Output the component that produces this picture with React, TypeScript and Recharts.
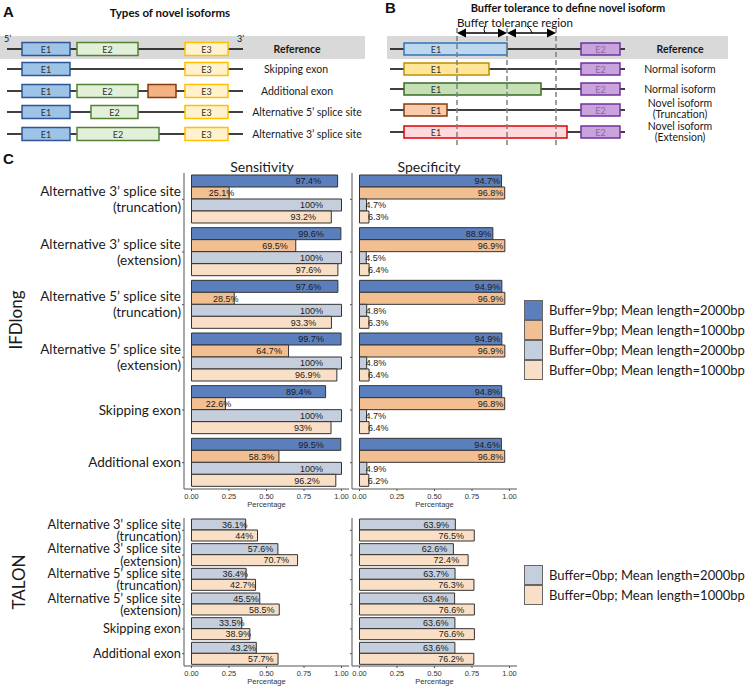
import React from 'react';
import { BarChart, Bar, XAxis, YAxis, LabelList } from 'recharts';

// ---------- data ----------
const categories = [
  'Alternative 3\u2019 splice site\n(truncation)',
  'Alternative 3\u2019 splice site\n(extension)',
  'Alternative 5\u2019 splice site\n(truncation)',
  'Alternative 5\u2019 splice site\n(extension)',
  'Skipping exon',
  'Additional exon',
];

const seriesNames = [
  'Buffer=9bp; Mean length=2000bp',
  'Buffer=9bp; Mean length=1000bp',
  'Buffer=0bp; Mean length=2000bp',
  'Buffer=0bp; Mean length=1000bp',
];
const seriesColors = ['#5b7fbd', '#f2bf93', '#c5cedc', '#f9dfc6'];

const ifdSens9bp2000 = [97.4, 99.6, 97.6, 99.7, 89.4, 99.5];
const ifdSens9bp1000 = [25.1, 69.5, 28.5, 64.7, 22.6, 58.3];
const ifdSens0bp2000 = [100, 100, 100, 100, 100, 100];
const ifdSens0bp1000 = [93.2, 97.6, 93.3, 96.9, 93, 96.2];

const ifdSpec9bp2000 = [94.7, 88.9, 94.9, 94.9, 94.8, 94.6];
const ifdSpec9bp1000 = [96.8, 96.9, 96.9, 96.9, 96.8, 96.8];
const ifdSpec0bp2000 = [4.7, 4.5, 4.8, 4.8, 4.7, 4.9];
const ifdSpec0bp1000 = [6.3, 6.4, 6.3, 6.4, 6.4, 6.2];

const talonSens0bp2000 = [36.1, 57.6, 36.4, 45.5, 33.5, 43.2];
const talonSens0bp1000 = [44, 70.7, 42.7, 58.5, 38.9, 57.7];

const talonSpec0bp2000 = [63.9, 62.6, 63.7, 63.4, 63.6, 63.6];
const talonSpec0bp1000 = [76.5, 72.4, 76.3, 76.6, 76.6, 76.2];

const xTicks = [0, 25, 50, 75, 100];

// schematic panel A
const isoformTypes = ['Reference', 'Skipping exon', 'Additional exon', 'Alternative 5\u2019 splice site', 'Alternative 3\u2019 splice site'];
const isoformExons: [string, number, number, string][][] = [
  [['E1', 22, 70, 'e1'], ['E2', 77, 138, 'e2'], ['E3', 185, 228, 'e3']],
  [['E1', 22, 70, 'e1'], ['E3', 185, 228, 'e3']],
  [['E1', 22, 70, 'e1'], ['E2', 77, 138, 'e2'], ['', 148, 176, 'ex'], ['E3', 185, 228, 'e3']],
  [['E1', 22, 70, 'e1'], ['E2', 91, 138, 'e2'], ['E3', 185, 228, 'e3']],
  [['E1', 22, 70, 'e1'], ['E2', 77, 159, 'e2'], ['E3', 185, 228, 'e3']],
];
// schematic panel B
const bufferRows = ['Reference', 'Normal isoform', 'Normal isoform', 'Novel isoform\n(Truncation)', 'Novel isoform\n(Extension)'];
const bufferE1End = [507, 489, 541, 447, 567];
const bufferE1Style = ['ref', 'n1', 'n2', 'tr', 'ext'];

// ---------- styles ----------
const FONT = "Lato, 'Open Sans', sans-serif";
const NUMFONT = "'Liberation Sans Narrow', 'Liberation Sans', Arial, sans-serif";
const exonStyle: Record<string, { fill: string; stroke: string }> = {
  e1: { fill: '#9dc3e6', stroke: '#2f5597' },
  e2: { fill: '#e2f0d9', stroke: '#548235' },
  e3: { fill: '#fff2cc', stroke: '#ffc000' },
  ex: { fill: '#f4b183', stroke: '#843c0c' },
  ref: { fill: '#bdd7ee', stroke: '#2e75b6' },
  n1: { fill: '#ffe699', stroke: '#bf9000' },
  n2: { fill: '#c5e0b4', stroke: '#3a6b22' },
  tr: { fill: '#f8cbad', stroke: '#843c0c' },
  ext: { fill: '#ffd9dc', stroke: '#e00000' },
  p2: { fill: '#c9a3dc', stroke: '#7030a0' },
};

function makeRows(arrs: number[][]) {
  return categories.map((cat, i) => {
    const r: any = { cat };
    arrs.forEach((a, j) => { r['s' + j] = a[i]; });
    return r;
  });
}

function CatTick(props: any) {
  const { x, y, payload, lineGap, fs } = props;
  const lines = String(payload.value).split('\n');
  const n = lines.length;
  return (
    <text x={x} y={y} textAnchor="end" fontFamily={FONT} fontSize={fs} fill="#1a1a1a">
      {lines.map((l, i) => (
        <tspan key={i} x={x} y={y + (i - (n - 1) / 2) * lineGap} dy="0.35em">{l}</tspan>
      ))}
    </text>
  );
}

const makeLabel = (mode: string) => (p: any) => {
  const { x, y, width, height, value } = p;
  let tx: number;
  let anchor: string;
  if (mode === 'end') {
    if (value > 50) { tx = x + width - 1.5; anchor = 'end'; } else { tx = x + width - 1; anchor = 'start'; }
  } else { tx = x + width * 0.8; anchor = 'middle'; }
  return (
    <text x={tx} y={y + height / 2} dy="0.36em" textAnchor={anchor as any} fontSize={9} fontFamily={NUMFONT} fill="#1a1a1a">
      {`${value}%`}
    </text>
  );
};

function ChartPanel(props: any) {
  const { left, top, width, height, margin, yWidth, data, seriesIdx, showCats, lineGap, labelMode, gap, fs } = props;
  return (
    <div style={{ position: 'absolute', left, top }}>
      <BarChart width={width} height={height} data={data} layout="vertical" margin={margin} barGap={0} barCategoryGap={gap}>
        <XAxis
          type="number"
          domain={[-5, 105]}
          ticks={xTicks}
          allowDataOverflow
          height={14}
          tickFormatter={(v: number) => (v / 100).toFixed(2)}
          tick={{ fontSize: 7.5, fill: '#333', fontFamily: NUMFONT }}
          tickSize={2}
          tickMargin={3}
          axisLine={{ stroke: '#555' }}
          tickLine={{ stroke: '#555' }}
          label={{ value: 'Percentage', position: 'bottom', offset: -1, fontSize: 7.5, fill: '#333', fontFamily: NUMFONT }}
        />
        <YAxis
          type="category"
          dataKey="cat"
          width={yWidth}
          interval={0}
          tickSize={2}
          tickMargin={1}
          axisLine={{ stroke: '#555' }}
          tickLine={{ stroke: '#555' }}
          tick={showCats ? (tp: any) => <CatTick {...tp} lineGap={lineGap} fs={fs} /> : () => <g />}
        />
        {seriesIdx.map((si: number, j: number) => (
          <Bar key={si} dataKey={'s' + j} name={seriesNames[si]} fill={seriesColors[si]} stroke="#333" strokeWidth={1} isAnimationActive={false}>
            <LabelList dataKey={'s' + j} content={makeLabel(labelMode) as any} />
          </Bar>
        ))}
      </BarChart>
    </div>
  );
}

function LegendBox({ left, top, idx }: { left: number; top: number; idx: number[] }) {
  return (
    <div style={{ position: 'absolute', left, top, fontFamily: FONT, fontSize: 13, color: '#1a1a1a', whiteSpace: 'nowrap' }}>
      {idx.map((i) => (
        <div key={i} style={{ display: 'flex', alignItems: 'center', height: 20 }}>
          <div style={{ width: 17, height: 18, background: seriesColors[i], border: '1px solid #666', marginRight: 6 }} />
          <span>{seriesNames[i]}</span>
        </div>
      ))}
    </div>
  );
}

function Schematics() {
  const rowYA = [49, 69, 91, 112, 134];
  const rowYB = [49, 69, 89, 110, 132];
  const labelXA = [297, 296, 297, 307, 307];
  const labelYB = [[49], [69], [89], [103, 114], [126, 137]];
  return (
    <svg width={750} height={686} style={{ position: 'absolute', left: 0, top: 0 }}>
      {/* Panel A */}
      <text x={3} y={11} dominantBaseline="central" fontFamily="'Liberation Sans', Arial" fontWeight="bold" fontSize={15} fill="#111">A</text>
      <text x={170} y={12} textAnchor="middle" dominantBaseline="central" fontFamily={FONT} fontWeight="bold" fontSize={11.5} fill="#111">Types of novel isoforms</text>
      <rect x={0} y={36} width={365} height={23} fill="#d9d9d9" />
      <text x={4} y={42} fontFamily={FONT} fontSize={9} fill="#111">5{'\u2019'}</text>
      <text x={237} y={42} fontFamily={FONT} fontSize={9} fill="#111">3{'\u2019'}</text>
      {rowYA.map((y, r) => (
        <g key={r}>
          <line x1={7} x2={243} y1={y} y2={y} stroke="#000" strokeWidth={1.5} />
          {isoformExons[r].map(([lab, s, e, st], k) => (
            <g key={k}>
              <rect x={s} y={y - 6.5} width={e - s} height={13} fill={exonStyle[st].fill} stroke={exonStyle[st].stroke} strokeWidth={1.5} />
              {lab && <text x={(s + e) / 2} y={y + 0.5} textAnchor="middle" dominantBaseline="central" fontFamily={FONT} fontSize={9} fill="#333">{lab}</text>}
            </g>
          ))}
          <text x={labelXA[r]} y={y} textAnchor="middle" dominantBaseline="central" fontFamily={FONT} fontSize={10.5} fontWeight={r === 0 ? 'bold' : 'normal'} fill="#1a1a1a">{isoformTypes[r]}</text>
        </g>
      ))}

      {/* Panel B */}
      <text x={385} y={7} dominantBaseline="central" fontFamily="'Liberation Sans', Arial" fontWeight="bold" fontSize={15} fill="#111">B</text>
      <text x={568} y={7} textAnchor="middle" dominantBaseline="central" fontFamily={FONT} fontWeight="bold" fontSize={11} fill="#111">Buffer tolerance to define novel isoform</text>
      <text x={515} y={22} textAnchor="middle" dominantBaseline="central" fontFamily={FONT} fontSize={11.5} fill="#111">Buffer tolerance region</text>
      <rect x={387} y={36} width={341} height={23} fill="#d9d9d9" />
      {rowYB.map((y, r) => {
        const st = exonStyle[bufferE1Style[r]];
        const lines = bufferRows[r].split('\n');
        return (
          <g key={r}>
            <line x1={390} x2={625} y1={y} y2={y} stroke="#000" strokeWidth={1.5} />
            <rect x={404} y={y - 6} width={bufferE1End[r] - 404} height={12} fill={st.fill} stroke={st.stroke} strokeWidth={1.5} />
            <text x={436} y={y + 0.5} textAnchor="middle" dominantBaseline="central" fontFamily={FONT} fontSize={9} fill="#333">E1</text>
            <rect x={581} y={y - 6} width={39} height={12} fill={exonStyle.p2.fill} stroke={exonStyle.p2.stroke} strokeWidth={1.5} />
            <text x={600.5} y={y + 0.5} textAnchor="middle" dominantBaseline="central" fontFamily={FONT} fontSize={9} fill="#8a6aa6">E2</text>
            {lines.map((l, k) => (
              <text key={k} x={680} y={labelYB[r][k]} textAnchor="middle" dominantBaseline="central" fontFamily={FONT} fontSize={10.5} fontWeight={r === 0 ? 'bold' : 'normal'} fill="#1a1a1a">{l}</text>
            ))}
          </g>
        );
      })}
      {[457, 507, 556].map((x) => (
        <line key={x} x1={x} x2={x} y1={28} y2={148} stroke="#7f7f7f" strokeWidth={1.5} strokeDasharray="5 3" />
      ))}
      {[[457, 507], [507, 556]].map(([a, b], k) => (
        <g key={k}>
          <line x1={a + 6} x2={b - 6} y1={33} y2={33} stroke="#000" strokeWidth={1.3} />
          <polygon points={`${a},33 ${a + 9},28.5 ${a + 9},37.5`} fill="#000" />
          <polygon points={`${b},33 ${b - 9},28.5 ${b - 9},37.5`} fill="#000" />
        </g>
      ))}
      <path d="M 485 26 Q 483 30 485 33" stroke="#000" fill="none" strokeWidth={1} />
      <path d="M 527 26 Q 531 29 532 33" stroke="#000" fill="none" strokeWidth={1} />

      {/* Panel C */}
      <text x={3} y={158} dominantBaseline="central" fontFamily="'Liberation Sans', Arial" fontWeight="bold" fontSize={15} fill="#111">C</text>
      <text x={262} y={166} textAnchor="middle" dominantBaseline="central" fontFamily={FONT} fontSize={14} fill="#1a1a1a">Sensitivity</text>
      <text x={429} y={166} textAnchor="middle" dominantBaseline="central" fontFamily={FONT} fontSize={14} fill="#1a1a1a">Specificity</text>
      <text x={15} y={320} textAnchor="middle" dominantBaseline="central" transform="rotate(-90 15 320)" fontFamily={FONT} fontSize={17} fill="#1a1a1a">IFDlong</text>
      <text x={18} y={582} textAnchor="middle" dominantBaseline="central" transform="rotate(-90 18 582)" fontFamily={FONT} fontSize={17} fill="#1a1a1a">TALON</text>
    </svg>
  );
}

export default function App() {
  const ifdSens = makeRows([ifdSens9bp2000, ifdSens9bp1000, ifdSens0bp2000, ifdSens0bp1000]);
  const ifdSpec = makeRows([ifdSpec9bp2000, ifdSpec9bp1000, ifdSpec0bp2000, ifdSpec0bp1000]);
  const talSens = makeRows([talonSens0bp2000, talonSens0bp1000]);
  const talSpec = makeRows([talonSpec0bp2000, talonSpec0bp1000]);
  return (
    <div style={{ position: 'absolute', left: 0, top: 0, width: 750, height: 686, overflow: 'hidden', background: '#fff' }}>
      <Schematics />
      <ChartPanel left={0} top={150} width={351} height={367} margin={{ top: 23, right: 2, bottom: 14, left: 0 }} yWidth={184}
        data={ifdSens} seriesIdx={[0, 1, 2, 3]} showCats lineGap={16} fs={13.5} labelMode="center" gap={2} />
      <ChartPanel left={340} top={150} width={179} height={367} margin={{ top: 23, right: 2, bottom: 14, left: 0 }} yWidth={12}
        data={ifdSpec} seriesIdx={[0, 1, 2, 3]} showCats={false} lineGap={16} fs={13.5} labelMode="end" gap={2} />
      <ChartPanel left={0} top={500} width={351} height={186} margin={{ top: 18, right: 2, bottom: 6, left: 0 }} yWidth={184}
        data={talSens} seriesIdx={[2, 3]} showCats lineGap={12.5} fs={12.8} labelMode="center" gap={1} />
      <ChartPanel left={340} top={500} width={179} height={186} margin={{ top: 18, right: 2, bottom: 6, left: 0 }} yWidth={12}
        data={talSpec} seriesIdx={[2, 3]} showCats={false} lineGap={12.5} fs={12.8} labelMode="center" gap={1} />
      <LegendBox left={524} top={300} idx={[0, 1, 2, 3]} />
      <LegendBox left={524} top={565} idx={[2, 3]} />
    </div>
  );
}
